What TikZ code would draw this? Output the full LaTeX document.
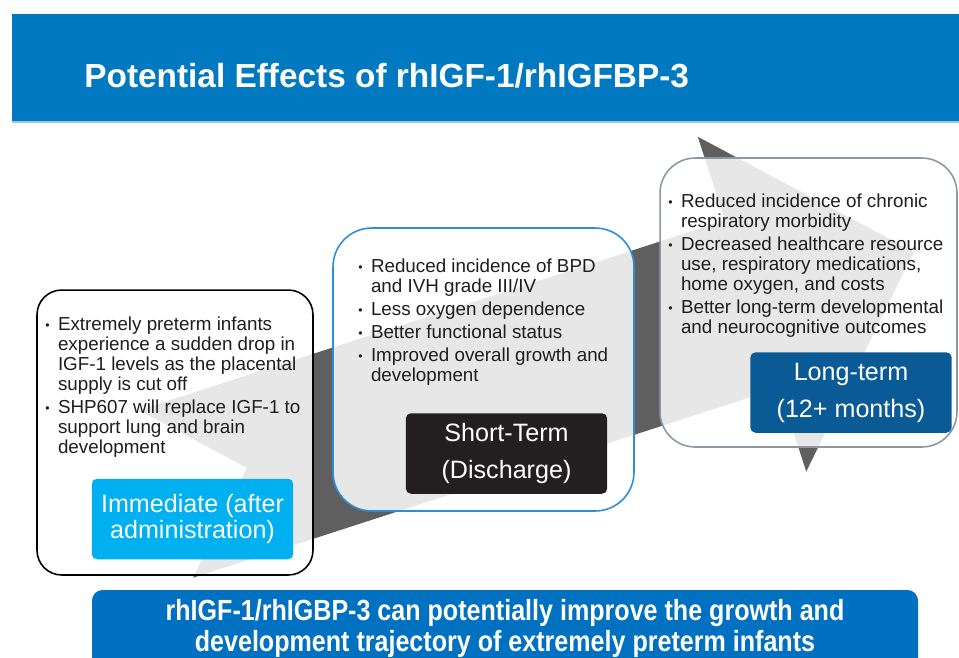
\documentclass[tikz,border=0pt]{standalone}
\usepackage{fontspec}
\setmainfont{Liberation Sans}
\newfontfamily\narrowfont[FakeStretch=0.86]{Liberation Sans}
\usetikzlibrary{positioning}
\definecolor{titleblue}{HTML}{0079C1}
\definecolor{titleline}{HTML}{9CC7E6}
\definecolor{bandblue}{HTML}{0070C0}
\definecolor{arrowgray}{HTML}{5F5F5F}
\definecolor{immcyan}{HTML}{00B0F0}
\definecolor{shortblack}{HTML}{231F20}
\definecolor{longblue}{HTML}{0A5A96}
\definecolor{midblue}{HTML}{2A8FD8}
\definecolor{boxgray}{HTML}{8C98A4}
\definecolor{bodytext}{HTML}{1E1E1E}
\newcommand{\bul}{\makebox[7.2pt][l]{\raisebox{0.6pt}{\scriptsize\textbullet}}}
\newcommand{\ind}{\hspace*{7.2pt}}

\begin{document}
\begin{tikzpicture}[x=0.02cm,y=-0.02cm]
\tikzset{stagebox/.style={draw,rounded corners=14pt,fill=white,fill opacity=0.85,line width=0.9pt,inner sep=0pt}}
\tikzset{stagelabel/.style={rounded corners=3pt,text=white,minimum width=4.03cm,minimum height=1.61cm,inner sep=0pt,align=center,font=\fontsize{14.3}{21}\selectfont}}
\tikzset{bullets/.style={anchor=base west,inner sep=0pt,align=left,text=bodytext,font=\fontsize{10.7}{11.34}\selectfont}}

\useasboundingbox (0,0) rectangle (959,657);

\fill[titleblue] (12,14) rectangle (959,121);
\draw[titleline,line width=0.8pt] (12,122) -- (959,122);
\node[anchor=base west,inner sep=0pt,text=white,font=\bfseries\fontsize{19}{20}\selectfont] (title) at (84,87) {Potential Effects of rhIGF-1/rhIGFBP-3};

\fill[arrowgray,shift={(166,494)},rotate=17.95] (0,-88) -- (85,0) -- (0,88) -- (616,88) -- (616,176) -- (786,0) -- (616,-176) -- (616,-88) -- cycle;

\node[stagebox,minimum width=5.52cm,minimum height=5.7cm] (immbox) at (175,432.5) {};
\node[stagebox,draw=midblue,rounded corners=22pt,minimum width=6.02cm,minimum height=5.66cm] (shortbox) at (483.5,369.5) {};
\node[stagebox,draw=boxgray,rounded corners=20pt,minimum width=5.94cm,minimum height=5.78cm] (longbox) at (808.5,302.5) {};

\node[stagelabel,fill=immcyan,font=\fontsize{14.3}{14.4}\selectfont] (immlab) at (192.5,519) {Immediate (after\\administration)};
\node[stagelabel,fill=shortblack] (shortlab) at (506.5,453.5) {Short-Term\\(Discharge)};
\node[stagelabel,fill=longblue] (longlab) at (851,392.5) {Long-term\\(12+ months)};

\node[bullets] (immtext) at (45,453) {\bul Extremely preterm infants\\ \ind experience a sudden drop in\\ \ind IGF-1 levels as the placental\\ \ind supply is cut off\\[1.7pt] \bul SHP607 will replace IGF-1 to\\ \ind support lung and brain\\ \ind development};
\node[bullets] (shorttext) at (358,381) {\bul Reduced incidence of BPD\\ \ind and IVH grade III/IV\\[1.7pt] \bul Less oxygen dependence\\[1.7pt] \bul Better functional status\\[1.7pt] \bul Improved overall growth and\\ \ind development};
\node[bullets] (longtext) at (668,333) {\bul Reduced incidence of chronic\\ \ind respiratory morbidity\\[1.7pt] \bul Decreased healthcare resource\\ \ind use, respiratory medications,\\ \ind home oxygen, and costs\\[1.7pt] \bul Better long-term developmental\\ \ind and neurocognitive outcomes};

\fill[bandblue,rounded corners=6pt] (92,590) rectangle (918,680);
\node[text=white,align=center,font=\narrowfont\bfseries\fontsize{16.6}{17.6}\selectfont] (summary) at (505,628) {rhIGF-1/rhIGBP-3 can potentially improve the growth and\\development trajectory of extremely preterm infants};

\end{tikzpicture}
\end{document}
